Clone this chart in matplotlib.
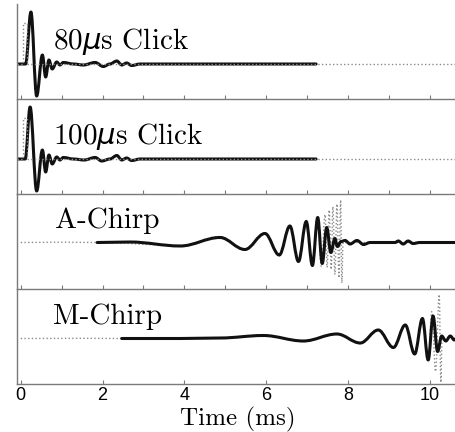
import matplotlib
matplotlib.use('agg')
import matplotlib.pyplot as plt
from matplotlib.path import Path
from matplotlib.patches import PathPatch

# waveforms as (time in ms, amplitude) turning points
# amplitudes are in arbitrary units (roughly screen pixels above the baseline)

click80_t = [-0.10, 0.12, 0.25, 0.39, 0.53, 0.61, 0.69, 0.77, 0.88, 0.96, 1.04, 1.29, 1.53,
             1.82, 2.02, 2.18, 2.35, 2.47, 2.59, 2.71, 2.92, 7.22]
click80_a = [0, 0, 52, -32, 9, -13, 4, -5, 2, -1, 1.5, 0, -1,
             1.5, -2.5, 0, 3, -1, 1, -1.5, 0, 0]
stim80_t = [-0.10, 0.064, 0.064, 0.144, 0.144, 10.64]
stim80_a = [0, 0, 41, 41, 0, 0]

click100_t = [-0.10, 0.11, 0.23, 0.39, 0.53, 0.61, 0.69, 0.77, 0.88, 0.96, 1.04, 1.29, 1.55,
              1.82, 1.98, 2.18, 2.35, 2.47, 2.59, 2.71, 2.92, 7.22]
click100_a = [0, 0, 52, -32, 9, -13, 4, -5, 2, -1, 1.5, 0, -1,
              1.5, -2, 0, 3.5, -1, 1, -1.5, 0, 0]
stim100_t = [-0.10, 0.064, 0.064, 0.164, 0.164, 10.64]
stim100_a = [0, 0, 41, 41, 0, 0]

achirp_t = [1.87, 2.67, 3.90, 4.87, 5.48, 5.97, 6.32, 6.58, 6.79, 6.98, 7.13, 7.26, 7.37,
            7.48, 7.58, 7.68, 7.74, 7.83, 7.93, 8.05, 8.22, 8.38, 8.54, 9.15, 9.23,
            9.35, 9.47, 9.59, 9.76, 10.64]
achirp_a = [0, 0.5, -3.5, 5, -7, 9, -12.5, 16.5, -19, 21, -23, 25, -21,
            15, -10, 4, -4, 1, 2, -1.5, 2, -2, 0, 0, 1.5,
            -1.5, 1.5, -1, 0, 0]
astim_t = [0.0, 1.00, 1.87, 3.90, 4.87, 5.48, 5.97, 6.32, 6.58, 6.79, 6.98, 7.13, 7.25,
           7.35, 7.44, 7.49, 7.54, 7.59, 7.63, 7.68, 7.73, 7.78, 7.82, 7.85, 7.88, 10.64]
astim_a = [0, 0.3, 0, -3, 6, -7.5, 9.5, -13, 17, -20, 22, -24, 26,
           -24, 28, -25, 32.5, -27, 36, -32, 38.5, -35.5, 42.5, -40.5, 0, 0]

mchirp_t = [2.47, 3.90, 4.87, 5.93, 6.91, 7.73, 8.30, 8.74, 9.11, 9.40, 9.63, 9.82, 9.96,
            10.08, 10.19, 10.29, 10.39, 10.50, 10.60, 10.64]
mchirp_a = [0, 0, 0.5, 3, -2.5, 4.5, -4.5, 8.5, -9, 13.5, -15.5, 20, -21.5,
            22.5, -13, 2.5, -2.5, 2.5, -1.5, 0]
mstim_t = [0.0, 1.50, 2.47, 3.90, 4.87, 5.93, 6.91, 7.73, 8.30, 8.74, 9.11, 9.40, 9.63,
           9.81, 9.96, 10.05, 10.14, 10.23, 10.27, 10.30, 10.64]
mstim_a = [0, 0.2, 0, 0, 0.5, 3.5, -3, 5, -5, 9, -9.5, 14, -16,
           21, -22, 27, -33, 44, -44, 0, 0]

labels = [r'80$\mu$s Click', r'100$\mu$s Click', 'A-Chirp', 'M-Chirp']
label_t = [0.79, 0.80, 0.84, 0.80]
panel_ylims = [(-34.75, 60), (-34.75, 60), (-46.25, 48.5), (-45.25, 49.5)]


def smooth_patch(t, a, **kw):
    # cubic segments with flat tangents at every turning point
    verts = [(t[0], a[0])]
    codes = [Path.MOVETO]
    for i in range(1, len(t)):
        dt = t[i] - t[i - 1]
        verts += [(t[i - 1] + 0.36 * dt, a[i - 1]), (t[i] - 0.36 * dt, a[i]), (t[i], a[i])]
        codes += [Path.CURVE4] * 3
    return PathPatch(Path(verts, codes), fill=False, **kw)


black_kw = dict(color='#111111', lw=2.2, capstyle='round', joinstyle='round')
gray_kw = dict(color='#8a8a8a', lw=1.0, linestyle=':')

fig = plt.figure(figsize=(4.56, 4.32), dpi=100)
left = 16.7 / 456
width = 1 - left
tops = [4, 99, 194, 289]
height = 94.75

responses = [(click80_t, click80_a), (click100_t, click100_a),
             (achirp_t, achirp_a), (mchirp_t, mchirp_a)]
stimuli = [(stim80_t, stim80_a), (stim100_t, stim100_a),
           (astim_t, astim_a), (mstim_t, mstim_a)]

for i in range(4):
    bottom = 1 - (tops[i] + height) / 432
    ax = fig.add_axes([left, bottom, width, height / 432])
    ax.set_facecolor('none')
    st, sa = stimuli[i]
    if i < 2:
        ax.plot(st, sa, **gray_kw)
    else:
        ax.add_patch(smooth_patch(st, sa, **gray_kw))
    rt, ra = responses[i]
    ax.add_patch(smooth_patch(rt, ra, **black_kw))
    ax.text(label_t[i], 15, labels[i], family='cmr10', fontsize=21, va='baseline', ha='left')
    ax.set_xlim(-0.098, 10.64)
    ax.set_ylim(*panel_ylims[i])
    ax.set_yticks([])
    for s in ['top', 'right']:
        ax.spines[s].set_visible(False)
    for s in ['left', 'bottom']:
        ax.spines[s].set_color('#7a7a7a')
        ax.spines[s].set_linewidth(1.0)
    ax.tick_params(axis='x', direction='in', length=3, width=0.8, color='#7a7a7a',
                   labelsize=13, pad=2)
    if i < 3:
        ax.set_xticks(range(0, 11))
        ax.set_xticklabels([])
    else:
        ax.set_xticks(range(0, 11, 2))
        for lab in ax.get_xticklabels():
            lab.set_family('Liberation Sans')

fig.text(238 / 456, 1 - 425.5 / 432, 'Time (ms)', family='cmr10', fontsize=18,
         ha='center', va='baseline')

fig.savefig('out.png', dpi=100)
